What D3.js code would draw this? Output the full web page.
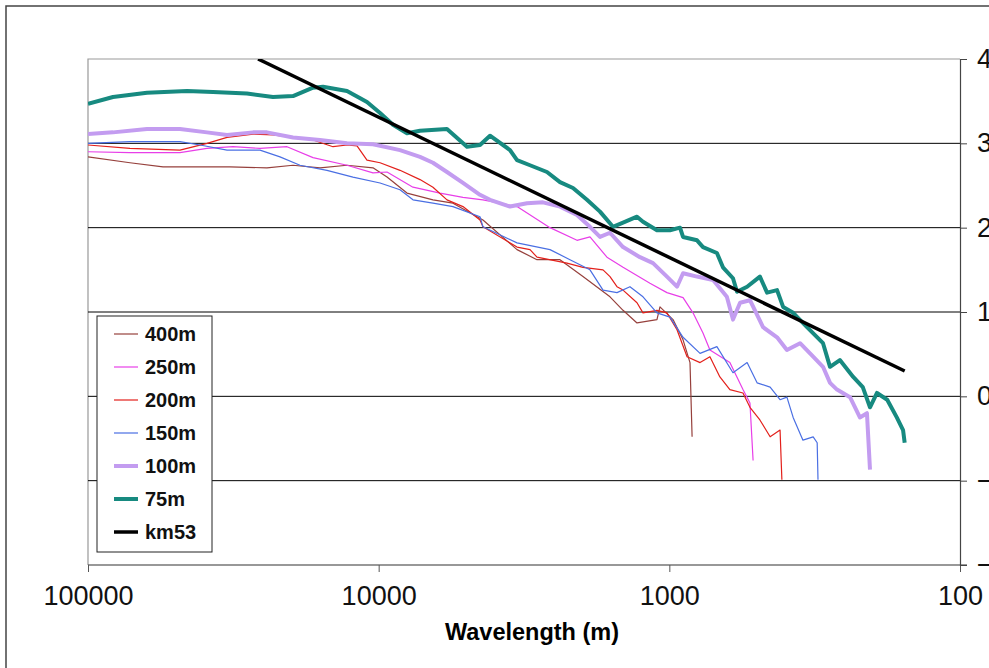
<!DOCTYPE html>
<html>
<head>
<meta charset="utf-8">
<script src="https://cdn.jsdelivr.net/npm/d3@7"></script>
<style>
  body { margin: 0; background: #fff; }
  svg { display: block; font-family: "Liberation Sans", Arial, sans-serif; }
</style>
</head>
<body>
<div id="chart"></div>
<script>
// data: [wavelength (m), value]
const s400 = [[100000,2.84],[71720,2.77],[55210,2.72],[42170,2.72],[32480,2.72],[24230,2.71],[19710,2.74],[15920,2.71],[12850,2.74],[10460,2.71],[9360,2.60],[7990,2.41],[6504,2.33],[5551,2.29],[4377,2.09],[3342,1.74],[2853,1.62],[2378,1.62],[1982,1.42],[1600,1.18],[1443,1.02],[1292,0.87],[1103,0.91],[1077,1.06],[971,0.91],[897,0.67],[849,0.40],[835,-0.48]];
const s250 = [[100000,2.90],[71720,2.89],[48260,2.89],[38960,2.94],[31710,2.96],[25600,2.94],[20670,2.96],[16820,2.83],[12850,2.74],[10460,2.65],[9360,2.66],[7620,2.48],[6152,2.41],[5128,2.36],[4377,2.33],[3342,2.25],[2574,2.00],[2078,1.85],[1875,1.89],[1639,1.65],[1443,1.53],[1166,1.34],[1019,1.23],[897,1.17],[829,0.99],[766,0.75],[725,0.55],[619,0.40],[558,0.08],[528,-0.08],[515,-0.76]];
const s200 = [[100000,2.98],[71720,2.94],[48260,2.92],[38960,3.00],[33240,3.07],[27060,3.11],[23100,3.10],[19710,3.07],[16820,3.04],[14360,2.96],[12850,2.98],[11870,2.97],[10970,2.80],[9890,2.77],[8445,2.68],[7207,2.57],[6504,2.48],[5821,2.33],[5128,2.25],[4481,2.09],[4377,2.01],[3342,1.77],[3015,1.74],[2853,1.65],[2250,1.58],[1982,1.53],[1691,1.50],[1600,1.42],[1514,1.30],[1443,1.26],[1292,1.11],[1232,0.99],[1103,1.02],[1019,0.99],[941,0.79],[869,0.47],[784,0.40],[725,0.47],[670,0.23],[619,0.08],[558,0.04],[528,-0.13],[488,-0.28],[450,-0.48],[416,-0.40],[410,-0.99]];
const s150 = [[100000,3.00],[71720,3.02],[48260,3.02],[41180,2.98],[33240,2.92],[25600,2.92],[21850,2.84],[18650,2.74],[15060,2.68],[12260,2.60],[9890,2.53],[8445,2.45],[7620,2.33],[6504,2.29],[5551,2.25],[4481,2.13],[4377,2.01],[3342,1.82],[2574,1.74],[2197,1.62],[1875,1.50],[1691,1.26],[1514,1.23],[1366,1.30],[1232,1.18],[1103,0.99],[995,0.94],[897,0.70],[784,0.51],[686,0.59],[604,0.28],[540,0.40],[499,0.16],[450,0.11],[416,-0.04],[394,-0.01],[375,-0.25],[347,-0.52],[320,-0.48],[310,-0.55],[308,-0.99]];
const s100 = [[100000,3.11],[82030,3.13],[62670,3.17],[48260,3.17],[38960,3.13],[33240,3.10],[27060,3.13],[24230,3.13],[19710,3.07],[15920,3.04],[12850,3.00],[10460,2.99],[8445,2.92],[7207,2.84],[6504,2.77],[5821,2.66],[5128,2.53],[4481,2.39],[4140,2.33],[3533,2.25],[3088,2.29],[2721,2.30],[2378,2.25],[2078,2.15],[1875,2.01],[1732,1.89],[1600,1.94],[1443,1.77],[1262,1.65],[1138,1.58],[1019,1.42],[941,1.30],[897,1.46],[803,1.42],[707,1.38],[634,1.18],[604,0.91],[571,1.11],[528,1.14],[476,0.82],[426,0.70],[394,0.55],[355,0.63],[320,0.47],[296,0.35],[280,0.16],[265,0.08],[239,-0.01],[221,-0.25],[209,-0.20],[204,-0.87]];
const s75 = [[100000,3.47],[82030,3.55],[62670,3.60],[45630,3.62],[37150,3.61],[28380,3.59],[23100,3.55],[19710,3.56],[16820,3.66],[15540,3.67],[12850,3.62],[10970,3.49],[9890,3.36],[8930,3.22],[7990,3.12],[7207,3.15],[5821,3.17],[4967,2.96],[4481,2.98],[4140,3.09],[3533,2.92],[3342,2.80],[3015,2.74],[2636,2.66],[2378,2.54],[2145,2.47],[1920,2.33],[1732,2.19],[1563,2.01],[1443,2.06],[1292,2.13],[1232,2.07],[1103,1.97],[995,1.97],[919,2.00],[897,1.89],[803,1.85],[766,1.77],[686,1.70],[654,1.53],[604,1.40],[585,1.24],[540,1.30],[488,1.42],[461,1.23],[426,1.26],[406,1.06],[375,0.99],[336,0.82],[296,0.63],[280,0.35],[259,0.43],[233,0.23],[216,0.11],[204,-0.13],[193,0.04],[178,-0.04],[165,-0.25],[157,-0.40],[155,-0.55]];
const km53 = [[26000,4.0],[155,0.30]];

const seriesNames = ['400m', '250m', '200m', '150m', '100m', '75m', 'km53'];
const xTicks = [100000, 10000, 1000, 100];
const yTicks = [-2, -1, 0, 1, 2, 3, 4];

const width = 989, height = 668;
const series = [
  { name: seriesNames[0], data: s400, color: '#96403c', w: 1.2 },
  { name: seriesNames[1], data: s250, color: '#e83ee8', w: 1.2 },
  { name: seriesNames[2], data: s200, color: '#e3201b', w: 1.2 },
  { name: seriesNames[3], data: s150, color: '#4a6fe3', w: 1.2 },
  { name: seriesNames[4], data: s100, color: '#c39cf0', w: 4 },
  { name: seriesNames[5], data: s75,  color: '#178a80', w: 4 },
  { name: seriesNames[6], data: km53, color: '#000000', w: 3.5 }
];

const x = d3.scaleLog().domain([100000, 100]).range([88, 960]);
const y = d3.scaleLinear().domain([-2, 4]).range([565, 59]);

const svg = d3.select('#chart').append('svg')
  .attr('width', width)
  .attr('height', height)
  .attr('viewBox', [0, 0, width, height]);

// chart area border (runs off the right/bottom edge)
svg.append('rect')
  .attr('x', 6).attr('y', 6)
  .attr('width', 1100).attr('height', 800)
  .attr('fill', 'none').attr('stroke', '#444').attr('stroke-width', 1.5);

// plot area frame
svg.append('path')
  .attr('d', `M${x(100000)},${y(-2)}V${y(4)}H${x(100)}`)
  .attr('fill', 'none').attr('stroke', '#999').attr('stroke-width', 1.2);

// gridlines
svg.append('g')
  .selectAll('line')
  .data(yTicks.filter(d => d > -2 && d < 4))
  .join('line')
  .attr('x1', x(100000)).attr('x2', x(100))
  .attr('y1', d => y(d)).attr('y2', d => y(d))
  .attr('stroke', '#000').attr('stroke-width', 1);

svg.append('defs').append('clipPath').attr('id', 'plot')
  .append('rect')
  .attr('x', x(100000)).attr('y', y(4))
  .attr('width', x(100) - x(100000)).attr('height', y(-2) - y(4));

// series
const line = d3.line().x(d => x(d[0])).y(d => y(d[1]));
svg.append('g')
  .attr('clip-path', 'url(#plot)')
  .attr('fill', 'none')
  .attr('stroke-linejoin', 'round')
  .selectAll('path')
  .data(series)
  .join('path')
  .attr('d', d => line(d.data))
  .attr('stroke', d => d.color)
  .attr('stroke-width', d => d.w);

// x axis at the bottom
const xAxis = svg.append('g')
  .attr('transform', `translate(0,${y(-2)})`)
  .call(d3.axisBottom(x).tickValues(xTicks).tickFormat(d3.format('d')).tickSizeOuter(0).tickSize(7).tickPadding(14));
xAxis.select('.domain').attr('stroke', '#333').attr('stroke-width', 1.2);
xAxis.selectAll('.tick line').attr('stroke', '#555');
xAxis.selectAll('text').attr('font-size', 27).attr('fill', '#111').attr('dy', '0.71em');
xAxis.select('.domain').attr('d', `M${x(100000)},0H${x(100) + 7}`);

// y axis on the right (labels run off the edge, as in the original)
const yAxis = svg.append('g')
  .attr('transform', `translate(${x(100)},0)`)
  .call(d3.axisRight(y).tickValues(yTicks).tickSizeOuter(0).tickSize(7).tickPadding(10));
yAxis.select('.domain').attr('stroke', '#444').attr('stroke-width', 1.2);
yAxis.selectAll('.tick line').attr('stroke', '#444');
yAxis.selectAll('text').attr('font-size', 27).attr('fill', '#111');

// axis title
svg.append('text')
  .attr('x', 532).attr('y', 640)
  .attr('text-anchor', 'middle')
  .attr('font-size', 23.5).attr('font-weight', 'bold')
  .text('Wavelength (m)');

// legend
const legend = svg.append('g').attr('transform', 'translate(97,316)');
legend.append('rect')
  .attr('width', 115).attr('height', 236)
  .attr('fill', '#fff').attr('stroke', '#222').attr('stroke-width', 1);
const item = legend.selectAll('g.item')
  .data(series)
  .join('g').attr('class', 'item')
  .attr('transform', (d, i) => `translate(0,${18 + i * 33})`);
item.append('line')
  .attr('x1', 17).attr('x2', 41)
  .attr('stroke', d => d.color)
  .attr('stroke-width', d => d.w);
item.append('text')
  .attr('x', 48).attr('dy', '0.36em')
  .attr('font-size', 20).attr('font-weight', 'bold')
  .attr('fill', '#111')
  .text(d => d.name);
</script>
</body>
</html>
